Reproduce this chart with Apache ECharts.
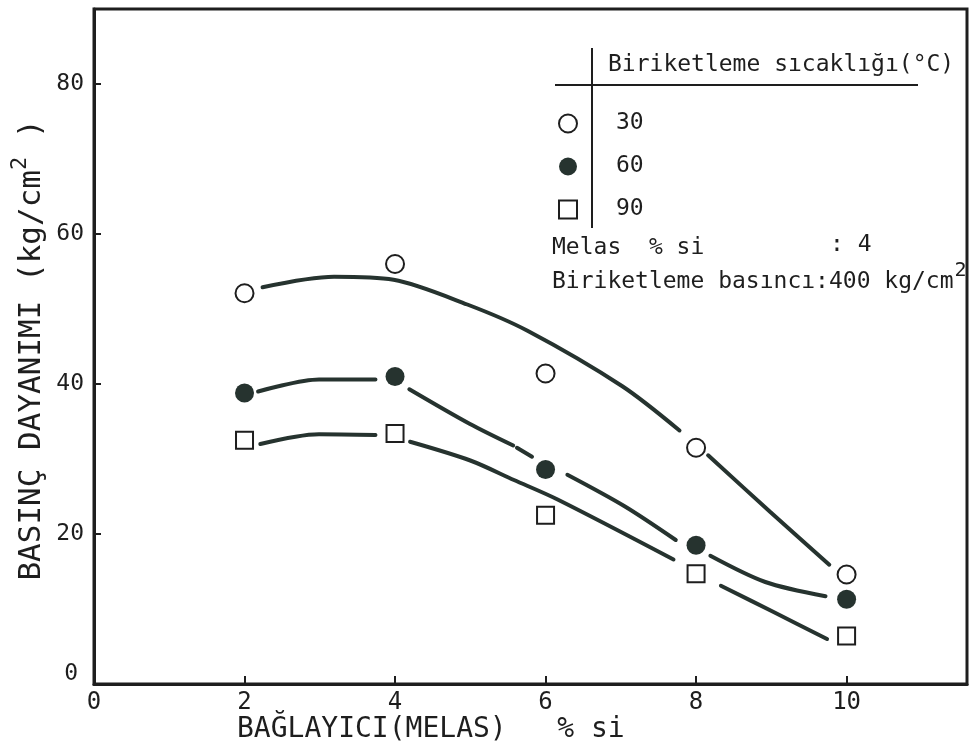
<!DOCTYPE html>
<html>
<head>
<meta charset="utf-8">
<script src="https://cdn.jsdelivr.net/npm/echarts@6/dist/echarts.min.js"></script>
<style>
  html, body { margin: 0; padding: 0; background: #fff; }
  #chart { width: 973px; height: 751px; }
</style>
</head>
<body>
<div id="chart"></div>
<script>
// Compressive strength of briquettes vs. binder (molasses) content,
// for three briquetting temperatures.
const melasPct = [2, 4, 6, 8, 10];
const tempLabels = ['30', '60', '90'];
const strength30 = [52.1, 56.0, 41.4, 31.5, 14.6];
const strength60 = [38.8, 41.0, 28.6, 18.5, 11.3];
const strength90 = [32.5, 33.4, 22.5, 14.7, 6.4];

// Hand-drawn trend curves; a null entry is a break in the pen stroke.
const curve30 = [[2.24, 52.9], [3.19, 54.3], [3.98, 53.9], [4.96, 50.6], [5.76, 47.1], [7.02, 39.7], [7.78, 33.8],
  null, [8.16, 30.5], [8.99, 22.9], [9.77, 15.9]];
const curve60 = [[2.18, 39.0], [2.99, 40.6], [3.74, 40.6],
  null, [4.19, 39.3], [4.99, 34.7], [5.57, 31.8],
  null, [5.62, 31.5], [5.82, 30.3],
  null, [6.29, 27.9], [7.05, 23.7], [7.73, 19.2],
  null, [8.19, 17.1], [8.92, 13.6], [9.72, 11.7]];
const curve90 = [[2.21, 32.0], [2.99, 33.3], [3.74, 33.2],
  null, [4.20, 32.3], [5.0, 29.8], [5.58, 27.2], [6.16, 24.6], [7.70, 16.6],
  null, [8.33, 13.1], [9.03, 9.6], [9.74, 6.0]];

const xTicks = [0, 2, 4, 6, 8, 10];
const yTicks = [0, 20, 40, 60, 80];

const INK = '#1e1e1e';
const PEN = '#26332f';
const LETTER_FONT = '"DejaVu Sans Mono", "Liberation Mono", monospace';

const pairs = (ys) => melasPct.map((x, i) => [x, ys[i]]);

const curveSeries = (data) => ({
  type: 'line',
  data: data,
  smooth: 0.3,
  connectNulls: false,
  showSymbol: false,
  symbol: 'none',
  silent: true,
  z: 2,
  lineStyle: { color: PEN, width: 4, cap: 'round' }
});

const openStyle = { color: '#fff', borderColor: INK, borderWidth: 2, opacity: 1 };

const chart = echarts.init(document.getElementById('chart'), null, { renderer: 'canvas' });

chart.setOption({
  animation: false,
  backgroundColor: '#fff',
  grid: {
    left: 94, right: 6, top: 9, bottom: 67,
    show: true, borderColor: INK, borderWidth: 3, backgroundColor: 'transparent'
  },
  xAxis: {
    type: 'value', min: 0, max: 11.6, interval: 2,
    axisLine: { show: true, lineStyle: { color: INK, width: 3 } },
    axisTick: { show: true, inside: true, length: 8, lineStyle: { color: INK, width: 2 },
      customValues: xTicks.slice(1) },
    axisLabel: { color: INK, fontFamily: LETTER_FONT, fontSize: 24, margin: 7,
      customValues: xTicks, formatter: (v) => String(v) },
    splitLine: { show: false }
  },
  yAxis: {
    type: 'value', min: 0, max: 90, interval: 20,
    axisLine: { show: true, lineStyle: { color: INK, width: 3 } },
    axisTick: { show: true, inside: true, length: 7, lineStyle: { color: INK, width: 2 },
      customValues: yTicks.slice(1) },
    axisLabel: {
      color: INK, fontFamily: LETTER_FONT, fontSize: 23, margin: 10,
      customValues: yTicks,
      formatter: (v) => (v === 0 ? '{z|0}' : String(v)),
      rich: { z: { fontFamily: LETTER_FONT, fontSize: 23, color: INK, padding: [0, 6, 20, 0] } }
    },
    splitLine: { show: false }
  },
  legend: {
    data: tempLabels,
    orient: 'vertical',
    left: 553, top: 107,
    itemWidth: 18, itemHeight: 18, itemGap: 20,
    selectedMode: false,
    textStyle: { color: INK, fontFamily: LETTER_FONT, fontSize: 23, lineHeight: 22, padding: [0, 0, 0, 34] }
  },
  series: [
    curveSeries(curve30),
    curveSeries(curve60),
    curveSeries(curve90),
    {
      name: tempLabels[0], type: 'scatter', data: pairs(strength30), z: 5,
      symbol: 'circle', symbolSize: 18, itemStyle: openStyle
    },
    {
      name: tempLabels[1], type: 'scatter', data: pairs(strength60), z: 5,
      symbol: 'circle', symbolSize: 19, itemStyle: { color: PEN, opacity: 1 }
    },
    {
      name: tempLabels[2], type: 'scatter', data: pairs(strength90), z: 5,
      symbol: 'rect', symbolSize: 17, itemStyle: openStyle
    }
  ],
  graphic: [
    // legend table rules
    { type: 'line', z: 10, shape: { x1: 555, y1: 85, x2: 918, y2: 85 }, style: { stroke: INK, lineWidth: 2 } },
    { type: 'line', z: 10, shape: { x1: 592, y1: 48, x2: 592, y2: 228 }, style: { stroke: INK, lineWidth: 2 } },
    { type: 'text', z: 10, x: 608, y: 65,
      style: { text: 'Biriketleme sıcaklığı(°C)', fill: INK, font: '23px ' + LETTER_FONT, verticalAlign: 'middle' } },
    { type: 'text', z: 10, x: 552, y: 248,
      style: { text: 'Melas  % si', fill: INK, font: '23px ' + LETTER_FONT, verticalAlign: 'middle' } },
    { type: 'text', z: 10, x: 830, y: 245,
      style: { text: ': 4', fill: INK, font: '23px ' + LETTER_FONT, verticalAlign: 'middle' } },
    { type: 'text', z: 10, x: 552, y: 282,
      style: {
        text: '{a|Biriketleme basıncı:400 kg/cm}{s|2}',
        verticalAlign: 'middle',
        rich: {
          a: { fill: INK, fontFamily: LETTER_FONT, fontSize: 23, lineHeight: 28 },
          s: { fill: INK, fontFamily: LETTER_FONT, fontSize: 20, padding: [0, 0, 22, 1] }
        }
      } },
    // axis titles
    { type: 'text', z: 10, x: 32, y: 350, rotation: Math.PI / 2,
      style: {
        text: '{a|BASINÇ DAYANIMI (kg/cm}{s|2}{a| )}',
        align: 'center', verticalAlign: 'middle',
        rich: {
          a: { fill: INK, fontFamily: LETTER_FONT, fontSize: 31, lineHeight: 34 },
          s: { fill: INK, fontFamily: LETTER_FONT, fontSize: 22, padding: [0, 0, 24, 0] }
        }
      } },
    { type: 'text', z: 10, x: 237, y: 730,
      style: { text: 'BAĞLAYICI(MELAS)   % si', fill: INK, font: '28px ' + LETTER_FONT, verticalAlign: 'middle' } }
  ]
});
</script>
</body>
</html>
